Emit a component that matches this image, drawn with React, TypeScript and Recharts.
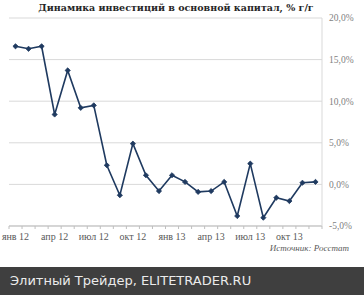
import { LineChart, Line, XAxis, YAxis, CartesianGrid } from 'recharts';

const MONTHS = [
  'янв 12', 'фев 12', 'мар 12', 'апр 12', 'май 12', 'июн 12',
  'июл 12', 'авг 12', 'сен 12', 'окт 12', 'ноя 12', 'дек 12',
  'янв 13', 'фев 13', 'мар 13', 'апр 13', 'май 13', 'июн 13',
  'июл 13', 'авг 13', 'сен 13', 'окт 13', 'ноя 13', 'дек 13',
];

const GROWTH = [
  16.6, 16.3, 16.6, 8.4, 13.7, 9.2, 9.5, 2.3, -1.3, 4.9, 1.1, -0.8,
  1.1, 0.3, -0.9, -0.8, 0.3, -3.8, 2.5, -4.0, -1.6, -2.0, 0.2, 0.3,
];

const Y_TICKS = [-5, 0, 5, 10, 15, 20];

const TITLE = 'Динамика инвестиций в основной капитал, % г/г';
const SOURCE = 'Источник: Росстат';
const FOOTER = 'Элитный Трейдер, ELITETRADER.RU';

const W = 364;
const H = 295;
const MARGIN = { top: 18, right: 4, bottom: 49, left: 9 };
const Y_W = 38;
const PLOT_W = W - MARGIN.left - MARGIN.right - Y_W;
const STEP = PLOT_W / MONTHS.length;

const data = MONTHS.map((m, i) => ({ month: m, value: GROWTH[i] }));

const fmt = (v: number) => `${v.toFixed(1).replace('.', ',')}%`;

// tick marks sit between months, labels only every quarter
function MonthTick(props: any) {
  const { x, y, payload, index } = props;
  const half = STEP / 2;
  const showLabel = index % 3 === 0;
  return (
    <g>
      <line x1={x - half} x2={x - half} y1={y} y2={y + 3} stroke="#bfbfbf" />
      {index === MONTHS.length - 1 && (
        <line x1={x + half} x2={x + half} y1={y} y2={y + 3} stroke="#bfbfbf" />
      )}
      {showLabel && (
        <text
          x={x}
          y={y + 14}
          textAnchor="middle"
          fill="#595959"
          fontSize={10}
          fontFamily="'Liberation Serif', serif"
        >
          {payload.value}
        </text>
      )}
    </g>
  );
}

function Marker(props: any) {
  const { cx, cy } = props;
  if (cx == null || cy == null) return null;
  const r = 2.6;
  return (
    <path
      d={`M${cx},${cy - r} L${cx + r},${cy} L${cx},${cy + r} L${cx - r},${cy} Z`}
      fill="#1f3a60"
      stroke="#1f3a60"
      strokeWidth={0.8}
    />
  );
}

export default function App() {
  return (
    <div
      style={{
        position: 'absolute',
        top: 0,
        left: 0,
        width: W,
        height: H,
        background: '#ffffff',
        overflow: 'hidden',
      }}
    >
      <div
        style={{
          position: 'absolute',
          top: 1,
          left: 0,
          width: 352,
          textAlign: 'center',
          fontFamily: "'DejaVu Serif', serif",
          fontWeight: 'bold',
          fontSize: 9.5,
          color: '#262626',
          lineHeight: '13px',
        }}
      >
        {TITLE}
      </div>
      <LineChart width={W} height={H} data={data} margin={MARGIN}>
        <CartesianGrid horizontal vertical={false} stroke="#d9d9d9" />
        <XAxis
          dataKey="month"
          interval={0}
          padding={{ left: STEP / 2, right: STEP / 2 }}
          tick={<MonthTick />}
          tickLine={false}
          tickSize={0}
          tickMargin={0}
          axisLine={{ stroke: '#bfbfbf' }}
          height={20}
        />
        <YAxis
          orientation="right"
          domain={[-5, 20]}
          ticks={Y_TICKS}
          tickFormatter={fmt}
          tickLine={false}
          tickSize={5}
          tickMargin={2}
          axisLine={{ stroke: '#d9d9d9' }}
          width={Y_W}
          tick={{ fill: '#7f7f7f', fontSize: 9.5, fontFamily: "'Liberation Serif', serif" }}
        />
        <Line
          type="linear"
          dataKey="value"
          stroke="#1f3a60"
          strokeWidth={1.6}
          dot={<Marker />}
          isAnimationActive={false}
        />
      </LineChart>
      <div
        style={{
          position: 'absolute',
          top: 243,
          right: 15,
          fontFamily: "'Liberation Serif', serif",
          fontStyle: 'italic',
          fontSize: 9,
          color: '#595959',
        }}
      >
        {SOURCE}
      </div>
      <div
        style={{
          position: 'absolute',
          top: 267,
          left: 0,
          width: W,
          height: 28,
          background: '#3f3f3f',
          color: '#ebebeb',
          fontFamily: "'DejaVu Sans', sans-serif",
          fontSize: 13,
          lineHeight: '28px',
          paddingLeft: 10,
          boxSizing: 'border-box',
        }}
      >
        {FOOTER}
      </div>
    </div>
  );
}
